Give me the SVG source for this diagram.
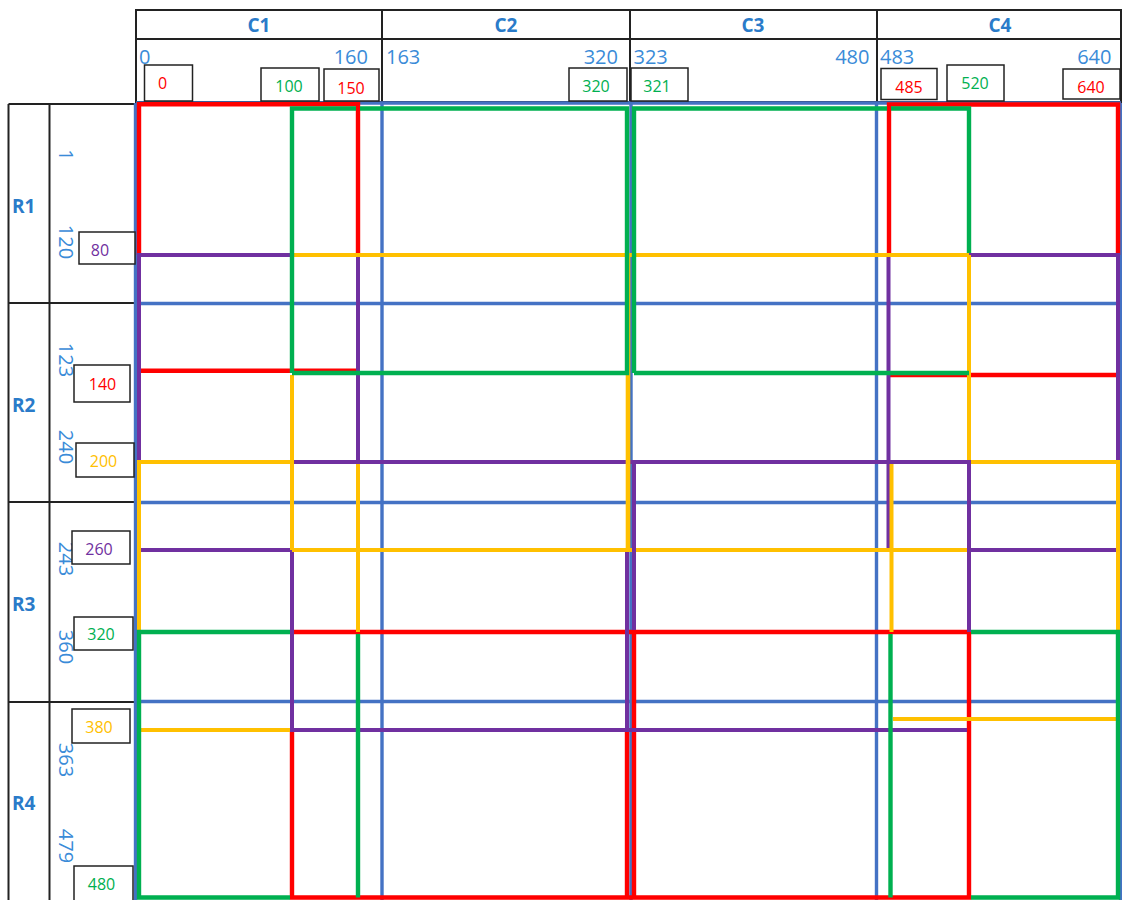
<svg xmlns="http://www.w3.org/2000/svg" width="1122" height="900" viewBox="0 0 1122 900">
<style>
text{font-family:"Open Sans","Liberation Sans",sans-serif}
.hd{font-weight:700;font-size:19px;fill:#2a7bc9}
.num{font-size:20px;fill:#3a8bd8}
.lb{font-size:16px;text-anchor:middle}
.tbl{fill:none;stroke:#222;stroke-width:2}
.box{fill:#fff;stroke:#222;stroke-width:1.5}
.bl{fill:none;stroke:#4472c4;stroke-width:3.4}
.r{fill:none;stroke:#ff0000;stroke-width:4.4}
.p{fill:none;stroke:#7030a0;stroke-width:4}
.y{fill:none;stroke:#ffc000;stroke-width:4}
.g{fill:none;stroke:#00b050;stroke-width:4.4}
.cr{fill:#ff0000}.cg{fill:#00b050}.cp{fill:#7030a0}.cy{fill:#ffc000}
</style>
<rect width="1122" height="900" fill="#fff"/>

<g id="header-table">
<path class="tbl" d="M136,10H1121V102H136Z M136,39H1121 M382,10V102 M630,10V102 M877,10V102"/>
<text class="hd" x="259" y="31.5" text-anchor="middle">C1</text>
<text class="hd" x="506" y="31.5" text-anchor="middle">C2</text>
<text class="hd" x="753" y="31.5" text-anchor="middle">C3</text>
<text class="hd" x="1000" y="31.5" text-anchor="middle">C4</text>
<text class="num" x="139" y="63.5">0</text>
<text class="num" x="368" y="63.5" text-anchor="end">160</text>
<text class="num" x="386" y="63.5">163</text>
<text class="num" x="618" y="63.5" text-anchor="end">320</text>
<text class="num" x="633.5" y="63.5">323</text>
<text class="num" x="869.5" y="63.5" text-anchor="end">480</text>
<text class="num" x="880" y="63.5">483</text>
<text class="num" x="1111.5" y="63.5" text-anchor="end">640</text>
</g>

<g id="row-table">
<path class="tbl" d="M8.5,104H136 M8.5,104V900 M49.5,104V900 M8.5,303H136 M8.5,502H136 M8.5,702H136"/>
<text class="hd" x="12" y="212.5">R1</text>
<text class="hd" x="12" y="412">R2</text>
<text class="hd" x="12" y="611">R3</text>
<text class="hd" x="12" y="810">R4</text>
<text class="num" text-anchor="middle" transform="translate(58.5,155) rotate(90)">1</text>
<text class="num" text-anchor="middle" transform="translate(58.5,242) rotate(90)">120</text>
<text class="num" text-anchor="middle" transform="translate(58.5,360) rotate(90)">123</text>
<text class="num" text-anchor="middle" transform="translate(58.5,447) rotate(90)">240</text>
<text class="num" text-anchor="middle" transform="translate(58.5,559) rotate(90)">243</text>
<text class="num" text-anchor="middle" transform="translate(58.5,647) rotate(90)">360</text>
<text class="num" text-anchor="middle" transform="translate(58.5,760) rotate(90)">363</text>
<text class="num" text-anchor="middle" transform="translate(58.5,846) rotate(90)">479</text>
</g>

<g id="blue-grid" class="bl">
<path d="M136,103H1121 M136,303.5H1121 M136,502.5H1121 M136,701.5H1121"/>
<path d="M135.5,103V900 M382,103V900 M631,103V900 M876.5,103V900 M1120.5,103V900"/>
</g>

<g id="red-tiles" class="r">
<path d="M139,255V104.3H358V255"/>
<path d="M141,370.8H358"/>
<path d="M889,255V104.5H1118V255"/>
<path d="M889,375H1118"/>
<path d="M292,730V897.5H969V632"/>
<path d="M627,730V897.5"/>
<path d="M634,632V897.5"/>
<path d="M292,632H969"/>
</g>

<g id="purple-tiles-1" class="p">
<path d="M139,462V255H292"/>
<path d="M358,255V462"/>
<path d="M139,550H292"/>
<path d="M888.5,550V255H1118V462"/>
<path d="M969,550H1116"/>
<path d="M292,550V730H967"/>
<path d="M627,550V730"/>
</g>

<g id="yellow-tiles" class="y">
<path d="M292,255H969"/>
<path d="M292,550H969"/>
<path d="M292,375V550"/>
<path d="M969,255V462"/>
<path d="M139,632V462H292"/>
<path d="M358,462V632"/>
<path d="M139,730H290"/>
<path d="M969,462H1118V632"/>
<path d="M891.5,462V632"/>
<path d="M893,719H1118"/>
</g>

<g id="purple-tiles-2" class="p">
<path d="M294,462H969V632"/>
<path d="M634,462V630"/>
</g>

<g id="yellow-edge" class="y">
<path d="M628,255V550" stroke-width="4.6"/>
</g>

<g id="green-tiles" class="g">
<path d="M292,373V108.5H356 M360,108.5H627V373H292"/>
<path d="M634,373V108.5H887 M891,108.5H969V253"/>
<path d="M634,373H969"/>
<path d="M290,632H139V897.5H290"/>
<path d="M358,634V897.5"/>
<path d="M971,632H1118V897.5H971"/>
<path d="M890.5,634V897.5"/>
</g>

<g id="labels">
<rect class="box" x="144.5" y="65" width="48" height="36"/><text class="lb cr" x="162.5" y="88.5">0</text>
<rect class="box" x="261" y="68" width="58" height="33"/><text class="lb cg" x="289" y="91.5">100</text>
<rect class="box" x="324" y="69" width="55" height="32"/><text class="lb cr" x="351" y="94">150</text>
<rect class="box" x="569" y="68" width="58" height="33"/><text class="lb cg" x="596" y="92">320</text>
<rect class="box" x="631" y="68" width="57" height="33"/><text class="lb cg" x="657" y="92">321</text>
<rect class="box" x="881" y="68.5" width="56" height="31"/><text class="lb cr" x="909" y="92.5">485</text>
<rect class="box" x="947" y="65" width="57" height="36"/><text class="lb cg" x="975" y="89">520</text>
<rect class="box" x="1063" y="69" width="57" height="30"/><text class="lb cr" x="1091" y="92.5">640</text>
<rect class="box" x="79" y="232" width="56" height="32"/><text class="lb cp" x="100" y="256">80</text>
<rect class="box" x="74" y="365" width="56" height="37"/><text class="lb cr" x="102.5" y="389.5">140</text>
<rect class="box" x="76" y="443" width="58" height="34"/><text class="lb cy" x="103.5" y="467">200</text>
<rect class="box" x="72" y="531" width="58" height="33"/><text class="lb cp" x="99" y="555">260</text>
<rect class="box" x="74" y="617" width="59" height="33"/><text class="lb cg" x="101" y="640">320</text>
<rect class="box" x="72" y="709" width="58" height="34"/><text class="lb cy" x="99" y="733">380</text>
<rect class="box" x="74" y="866" width="59" height="36"/><text class="lb cg" x="101.5" y="889.5">480</text>
</g>
</svg>
